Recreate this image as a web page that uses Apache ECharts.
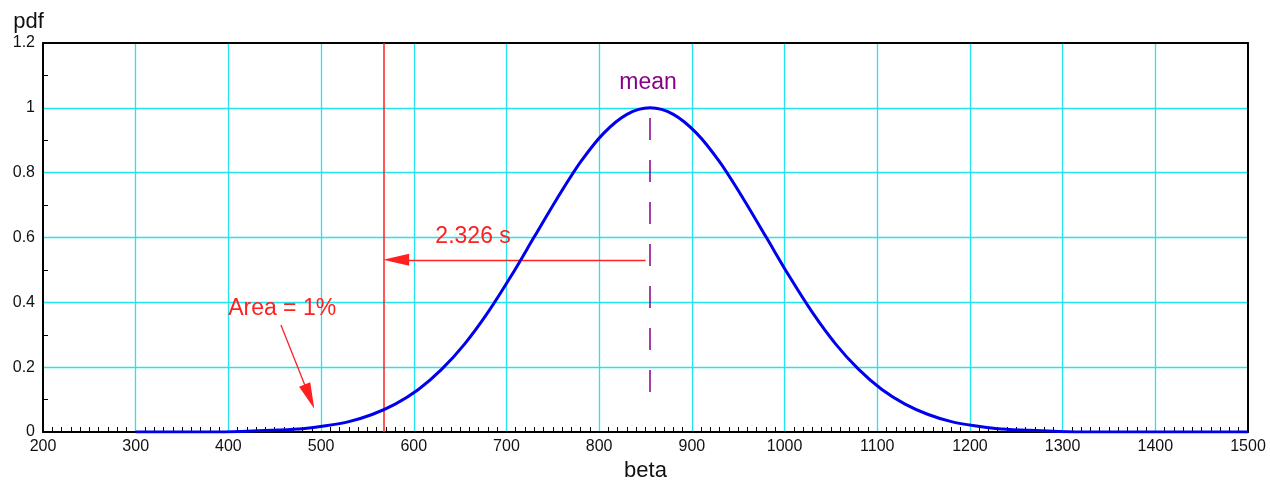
<!DOCTYPE html>
<html>
<head>
<meta charset="utf-8">
<script src="https://cdn.jsdelivr.net/npm/echarts@6/dist/echarts.min.js"></script>
<style>html,body{margin:0;padding:0;background:#fff;}#c{width:1270px;height:481px;}</style>
</head>
<body>
<div id="c"></div>
<script>
// Data
const betaValues = [300, 355, 405, 455, 480, 505, 530, 555, 580, 605, 630, 655, 680, 705, 730, 755, 780, 805, 830, 855, 880, 905, 930, 955, 980, 1005, 1030, 1055, 1080, 1105, 1130, 1155, 1180, 1205, 1230, 1255, 1305, 1355, 1405, 1455, 1500];
const pdfValues  = [0.000, 0.000, 0.001, 0.006, 0.010, 0.019, 0.032, 0.054, 0.086, 0.131, 0.193, 0.272, 0.369, 0.481, 0.602, 0.722, 0.833, 0.922, 0.980, 1.000, 0.980, 0.922, 0.833, 0.722, 0.602, 0.481, 0.369, 0.272, 0.193, 0.131, 0.086, 0.054, 0.032, 0.019, 0.010, 0.006, 0.001, 0.000, 0.000, 0.000, 0.000];
const xTicks = [200, 300, 400, 500, 600, 700, 800, 900, 1000, 1100, 1200, 1300, 1400, 1500];
const yTicks = [0, 0.2, 0.4, 0.6, 0.8, 1, 1.2];
const meanBeta = 855;
const cutoffBeta = 568;
const shiftLabel = '2.326 s';
const areaLabel = 'Area = 1%';
const meanLabel = 'mean';

const FONT = 'Liberation Sans, Arial, Helvetica, sans-serif';
const chart = echarts.init(document.getElementById('c'), null, {renderer: 'canvas'});
const seriesData = betaValues.map((b, i) => [b, pdfValues[i]]);

const textPoint = (x, y, text, color) => ({
  coord: [x, y], symbol: 'rect', symbolSize: [1, 1],
  itemStyle: {color: 'rgba(0,0,0,0)'},
  label: {show: true, position: 'inside', formatter: text, color: color, fontSize: 23, fontFamily: FONT}
});

chart.setOption({
  animation: false,
  grid: {left: 43, right: 22, top: 43, bottom: 49, containLabel: false, outerBoundsMode: 'none'},
  xAxis: [{
    type: 'value', min: xTicks[0], max: xTicks[xTicks.length - 1], interval: 100,
    name: 'beta', nameLocation: 'middle', nameGap: 25,
    nameTextStyle: {fontSize: 22, color: '#111', fontFamily: FONT},
    axisLine: {show: true, onZero: false, lineStyle: {color: '#000', width: 2}},
    axisTick: {show: false, inside: true},
    minorTick: {show: true, splitNumber: 10, length: 5, lineStyle: {color: '#000', width: 1}},
    axisLabel: {fontSize: 16, color: '#111', fontFamily: FONT, margin: 7, formatter: v => String(v)},
    splitLine: {show: true, showMinLine: false, showMaxLine: false, lineStyle: {color: '#22e5ee', width: 1.3}}
  }, {
    type: 'value', position: 'top', min: xTicks[0], max: xTicks[xTicks.length - 1], interval: 100,
    axisLine: {show: true, onZero: false, lineStyle: {color: '#000', width: 2}},
    axisTick: {show: false}, axisLabel: {show: false}, splitLine: {show: false}
  }],
  yAxis: [{
    type: 'value', min: yTicks[0], max: yTicks[yTicks.length - 1], interval: 0.2,
    name: 'pdf', nameLocation: 'end', nameGap: 10,
    nameTextStyle: {fontSize: 22, color: '#111', fontFamily: FONT, align: 'center', padding: [0, 29, 0, 0]},
    axisLine: {show: true, onZero: false, lineStyle: {color: '#000', width: 2}},
    axisTick: {show: false, inside: true},
    minorTick: {show: true, splitNumber: 2, length: 5, lineStyle: {color: '#000', width: 1}},
    axisLabel: {fontSize: 16, color: '#111', fontFamily: FONT, margin: 8, formatter: v => String(+v.toFixed(1))},
    splitLine: {show: true, showMinLine: false, showMaxLine: false, lineStyle: {color: '#22e5ee', width: 1.3}}
  }, {
    type: 'value', position: 'right', min: yTicks[0], max: yTicks[yTicks.length - 1], interval: 0.2,
    axisLine: {show: true, onZero: false, lineStyle: {color: '#000', width: 2}},
    axisTick: {show: false}, axisLabel: {show: false}, splitLine: {show: false}
  }],
  series: [{
    type: 'line', data: seriesData, showSymbol: false, smooth: 0.3,
    lineStyle: {color: '#0000ee', width: 3}, z: 5,
    markLine: {
      silent: true, animation: false, precision: 4,
      label: {show: false},
      data: [
        [{coord: [cutoffBeta, 0], symbol: 'none', lineStyle: {color: '#ff2020', width: 1.5, type: 'solid'}},
         {coord: [cutoffBeta, 1.2], symbol: 'none'}],
        [{coord: [meanBeta, 0.969], symbol: 'none', lineStyle: {color: '#880088', width: 1.5, type: [22, 20]}},
         {coord: [meanBeta, 0.114], symbol: 'none'}],
        [{coord: [850, 0.531], symbol: 'none', lineStyle: {color: '#ff2020', width: 1.3, type: 'solid'}},
         {coord: [cutoffBeta + 13, 0.531], symbol: 'triangle', symbolSize: [12, 26]}],
        [{coord: [456.7, 0.330], symbol: 'none', lineStyle: {color: '#ff2020', width: 1.3, type: 'solid'}},
         {coord: [487.5, 0.109], symbol: 'triangle', symbolSize: [12, 26]}]
      ]
    },
    markPoint: {
      silent: true, animation: false,
      data: [
        textPoint(852.7, 1.077, meanLabel, '#880088'),
        textPoint(664, 0.602, shiftLabel, '#ff2020'),
        textPoint(458, 0.380, areaLabel, '#ff2020')
      ]
    }
  }]
});
</script>
</body>
</html>
